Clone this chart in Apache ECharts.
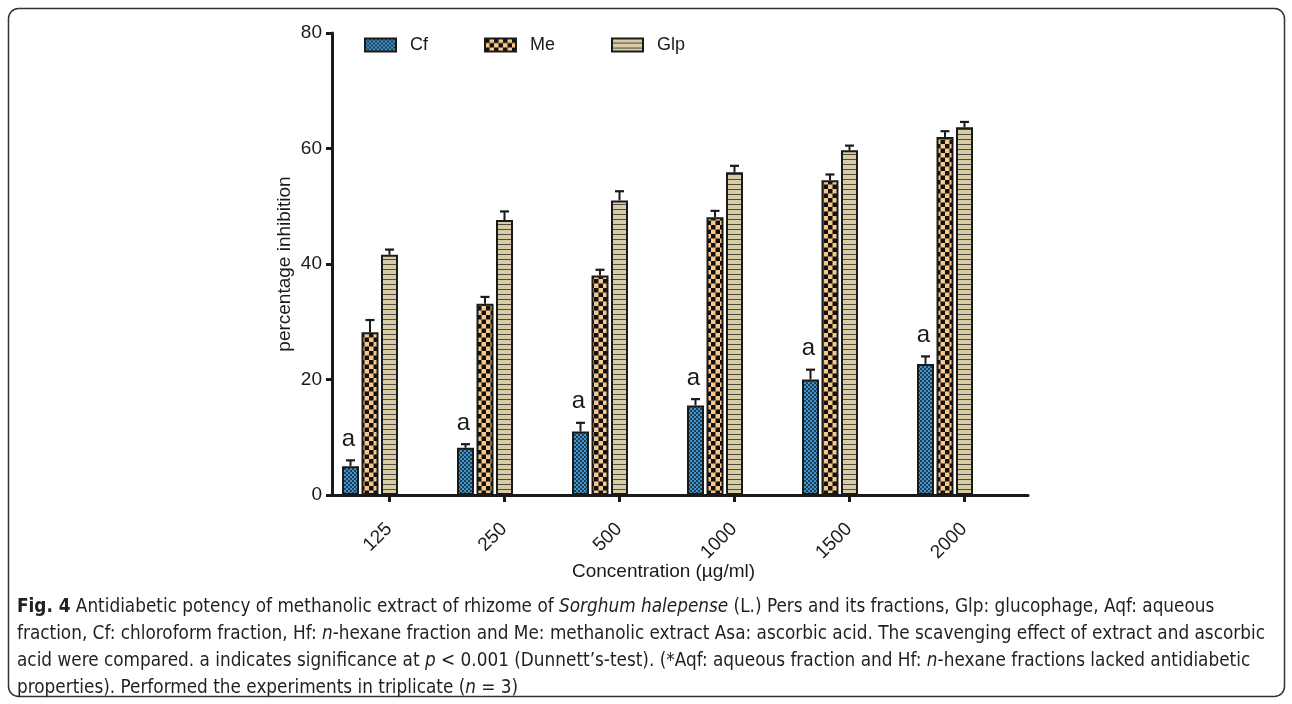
<!DOCTYPE html>
<html>
<head>
<meta charset="utf-8">
<script src="https://cdn.jsdelivr.net/npm/echarts@6/dist/echarts.min.js"></script>
<style>
html,body{margin:0;padding:0;background:#fff;}
#chart{width:1292px;height:704px;}
</style>
</head>
<body>
<div id="chart"></div>
<script>
// ---- data ----
const categories = ['125', '250', '500', '1000', '1500', '2000'];
const seriesNames = ['Cf', 'Me', 'Glp'];
const cfValues  = [5.0, 8.2, 11.0, 15.5, 20.0, 22.7];
const cfErrors  = [1.0, 0.6, 1.5, 1.1, 1.7, 1.3];
const meValues  = [28.2, 33.1, 38.0, 48.1, 54.5, 62.0];
const meErrors  = [2.1, 1.2, 1.0, 1.1, 1.0, 1.0];
const glpValues = [41.6, 47.6, 51.0, 55.9, 59.7, 63.7];
const glpErrors = [0.9, 1.5, 1.6, 1.1, 0.8, 0.9];
const cfSignificance = ['a', 'a', 'a', 'a', 'a', 'a'];
const yTicks = [0, 20, 40, 60, 80];

const captionLines = [
  '{b|Fig. 4} Antidiabetic potency of methanolic extract of rhizome of {i|Sorghum halepense} (L.) Pers and its fractions, Glp: glucophage, Aqf: aqueous',
  'fraction, Cf: chloroform fraction, Hf: {i|n}-hexane fraction and Me: methanolic extract Asa: ascorbic acid. The scavenging effect of extract and ascorbic',
  'acid were compared. a indicates significance at {i|p} < 0.001 (Dunnett\u2019s-test). (*Aqf: aqueous fraction and Hf: {i|n}-hexane fractions lacked antidiabetic',
  'properties). Performed the experiments in triplicate ({i|n} = 3)'
];

// ---- styles ----
const FONT = "'Liberation Sans', Arial, sans-serif";
const CAPFONT = "'Liberation Sans Narrow', 'DejaVu Sans Condensed', 'Liberation Sans', sans-serif";
const CAPSIZE = 18.8;
const INK = '#1a1a1a';
const BAR_W = 17, BAR_BORDER = 2, BAR_GAP_PX = 2.5;
const BAR_STEP = BAR_W + BAR_GAP_PX;

function makePattern(size, draw) {
  const c = document.createElement('canvas');
  c.width = size; c.height = size;
  draw(c.getContext('2d'));
  return { image: c, repeat: 'repeat' };
}
const cfPattern = makePattern(4, g => {
  g.fillStyle = '#4393c9'; g.fillRect(0, 0, 4, 4);
  g.fillStyle = '#1d3f58'; g.fillRect(0, 0, 2, 2); g.fillRect(2, 2, 2, 2);
});
const mePattern = makePattern(9, g => {
  g.fillStyle = '#f9c888'; g.fillRect(0, 0, 9, 9);
  g.fillStyle = '#111'; g.fillRect(0, 0, 4.5, 4.5); g.fillRect(4.5, 4.5, 4.5, 4.5);
});
const glpPattern = makePattern(5, g => {
  g.fillStyle = '#d8cca6'; g.fillRect(0, 0, 5, 5);
  g.fillStyle = '#4d4a40'; g.fillRect(0, 4, 5, 1);
});
const patterns = [cfPattern, mePattern, glpPattern];
const values = [cfValues, meValues, glpValues];
const errors = [cfErrors, meErrors, glpErrors];

const chart = echarts.init(document.getElementById('chart'));

const gridTop = 33, gridH = 462;
const grids = [
  { left: 332, top: gridTop, width: 696, height: gridH },      // axis lines
  { left: 331.5, top: gridTop, width: 690, height: gridH },    // x ticks / labels
  { left: 312.5, top: gridTop, width: 690, height: gridH }     // bars
];

const xAxes = [
  { gridIndex: 0, type: 'category', data: categories, axisLine: { show: true, lineStyle: { color: INK, width: 3 } },
    axisTick: { show: false }, axisLabel: { show: false } },
  { gridIndex: 1, type: 'category', data: categories, axisLine: { show: false },
    axisTick: { show: true, alignWithLabel: true, length: 7, lineStyle: { color: INK, width: 3 } },
    axisLabel: { rotate: 45, margin: 31, fontSize: 19, color: INK, fontFamily: FONT },
    name: 'Concentration (\u00b5g/ml)', nameLocation: 'middle', nameGap: 67, nameMoveOverlap: false,
    nameTextStyle: { fontSize: 19, color: INK, fontFamily: FONT, padding: [0, 26, 0, 0] } },
  { gridIndex: 2, type: 'category', data: categories, show: false }
];
const yAxes = [
  { gridIndex: 0, type: 'value', min: 0, max: 80, interval: 20,
    axisLine: { show: true, lineStyle: { color: INK, width: 3 } },
    axisTick: { show: true, length: 6, lineStyle: { color: INK, width: 3 } },
    axisLabel: { fontSize: 19, color: INK, fontFamily: FONT, margin: 10,
      formatter: v => yTicks.includes(v) ? String(v) : '' },
    splitLine: { show: false },
    name: 'percentage inhibition', nameLocation: 'middle', nameGap: 38, nameMoveOverlap: false,
    nameTextStyle: { fontSize: 19, color: INK, fontFamily: FONT } },
  { gridIndex: 1, type: 'value', min: 0, max: 80, show: false, splitLine: { show: false } },
  { gridIndex: 2, type: 'value', min: 0, max: 80, show: false, splitLine: { show: false } }
];

const series = [];
seriesNames.forEach((name, k) => {
  series.push({
    name: name, type: 'bar', xAxisIndex: 2, yAxisIndex: 2,
    data: values[k], barWidth: BAR_W, barGap: (BAR_GAP_PX / BAR_W * 100) + '%',
    itemStyle: { color: patterns[k], borderColor: INK, borderWidth: BAR_BORDER },
    emphasis: { disabled: true }, z: 2
  });
});
seriesNames.forEach((name, k) => {
  const off = (k - 1) * BAR_STEP;
  series.push({
    name: name + ' err', type: 'custom', xAxisIndex: 2, yAxisIndex: 2, z: 3,
    data: values[k].map((v, i) => [i, v, errors[k][i]]),
    renderItem: function (params, api) {
      const i = api.value(0), v = api.value(1), e = api.value(2);
      const b = api.coord([i, v]);
      const t = api.coord([i, v + e]);
      const x = b[0] + off;
      const children = [
        { type: 'line', shape: { x1: x, y1: b[1], x2: x, y2: t[1] }, style: { stroke: INK, lineWidth: 2 } },
        { type: 'line', shape: { x1: x - 4.5, y1: t[1], x2: x + 4.5, y2: t[1] }, style: { stroke: INK, lineWidth: 2.2 } }
      ];
      if (k === 0 && cfSignificance[params.dataIndex]) {
        children.push({ type: 'text', x: x - 2, y: t[1] - 21,
          style: { text: cfSignificance[params.dataIndex], fill: INK, font: '24px ' + FONT,
            textAlign: 'center', textVerticalAlign: 'middle' } });
      }
      return { type: 'group', children: children };
    }
  });
});

const captionGraphics = captionLines.map((line, j) => ({
  type: 'text', left: 17, top: 598 + j * 27,
  style: {
    text: line,
    font: CAPSIZE + 'px ' + CAPFONT,
    fill: '#231f20',
    rich: {
      b: { fontWeight: 'bold', fontFamily: CAPFONT, fontSize: CAPSIZE, fill: '#231f20' },
      i: { fontStyle: 'italic', fontFamily: CAPFONT, fontSize: CAPSIZE, fill: '#231f20' }
    }
  }
}));

chart.setOption({
  backgroundColor: '#fff',
  animation: false,
  textStyle: { fontFamily: FONT },
  grid: grids,
  xAxis: xAxes,
  yAxis: yAxes,
  legend: {
    data: seriesNames, left: 359, top: 31, icon: 'rect',
    itemWidth: 31, itemHeight: 13, itemGap: 56,
    textStyle: { fontSize: 18, color: INK, fontFamily: FONT, padding: [0, 0, 0, 9] },
    selectedMode: false
  },
  graphic: [
    { type: 'rect', shape: { x: 8.5, y: 8.5, width: 1276, height: 688, r: 10 },
      style: { fill: 'none', stroke: '#333', lineWidth: 1.5 }, z: -1 }
  ].concat(captionGraphics),
  series: series
});
</script>
</body>
</html>
